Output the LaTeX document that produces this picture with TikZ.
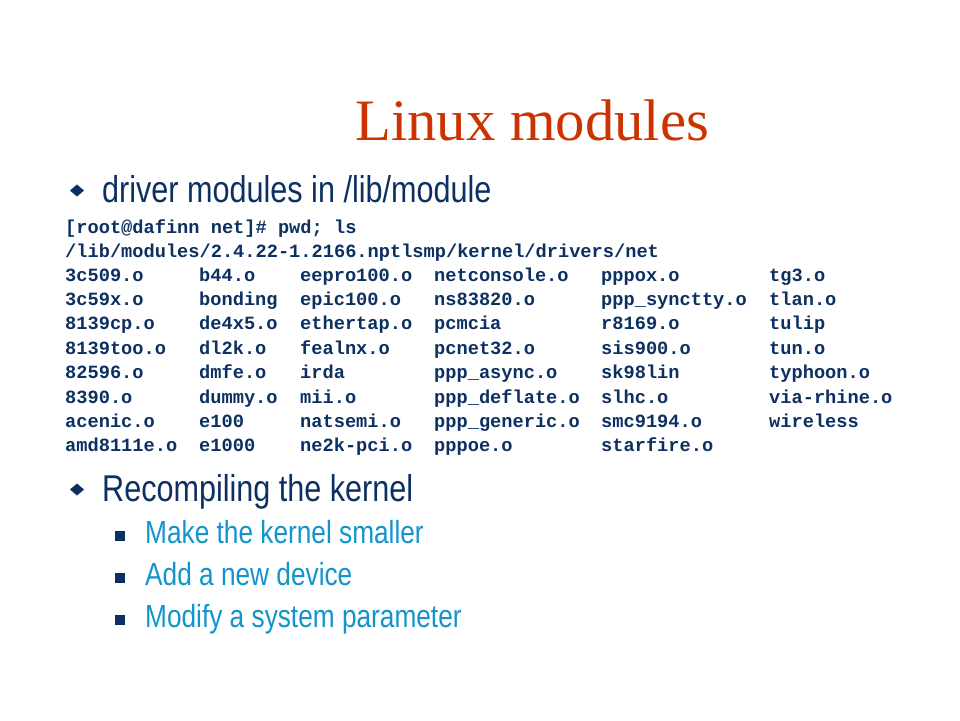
\documentclass[tikz,border=0pt]{standalone}
\usepackage{fontspec}
\setmainfont{Liberation Serif}
\newfontfamily\bodyfont[FakeStretch=0.82]{Liberation Sans}
\newfontfamily\codefont{Liberation Mono}
\definecolor{titlered}{RGB}{204,51,0}
\definecolor{navy}{RGB}{12,48,98}
\definecolor{skyblue}{RGB}{18,148,204}
\begin{document}
\begin{tikzpicture}[x=1pt,y=-1pt,
    every node/.style={inner sep=0pt,anchor=base west},
    heading/.style={font=\fontsize{58.7}{60}\selectfont,text=titlered},
    bigitem/.style={font=\bodyfont\fontsize{37.3}{40}\selectfont,text=navy},
    smallitem/.style={font=\bodyfont\fontsize{32}{34}\selectfont,text=skyblue},
    listing/.style={font=\codefont\bfseries\fontsize{18.67}{20}\selectfont,text=navy}]
    \fill[white] (0,0) rectangle (960,720);
    \useasboundingbox (0,0) rectangle (960,720);
    \node[heading] (title) at (355,140) {Linux modules};
    % first bullet
    \fill[navy] (70,190.5) -- (77,184.5) -- (84,190.5) -- (77,196.5) -- cycle;
    \node[bigitem] (drivers) at (102,202) {driver modules in /lib/module};
    \node[listing] (cmd) at (65,233) {[root@dafinn net]\# pwd; ls};
    \node[listing] (path) at (65,257) {/lib/modules/2.4.22-1.2166.nptlsmp/kernel/drivers/net};
    \foreach \a/\b/\c/\d/\e/\f [count=\i from 0] in {
        3c509.o/b44.o/eepro100.o/netconsole.o/pppox.o/tg3.o,
        3c59x.o/bonding/epic100.o/ns83820.o/ppp\_synctty.o/tlan.o,
        8139cp.o/de4x5.o/ethertap.o/pcmcia/r8169.o/tulip,
        8139too.o/dl2k.o/fealnx.o/pcnet32.o/sis900.o/tun.o,
        82596.o/dmfe.o/irda/ppp\_async.o/sk98lin/typhoon.o,
        8390.o/dummy.o/mii.o/ppp\_deflate.o/slhc.o/via-rhine.o,
        acenic.o/e100/natsemi.o/ppp\_generic.o/smc9194.o/wireless,
        amd8111e.o/e1000/ne2k-pci.o/pppoe.o/starfire.o/{}} {
        \node[listing] (m\i a) at (65,281+24.4*\i) {\a};
        \node[listing] (m\i b) at (199,281+24.4*\i) {\b};
        \node[listing] (m\i c) at (300,281+24.4*\i) {\c};
        \node[listing] (m\i d) at (434,281+24.4*\i) {\d};
        \node[listing] (m\i e) at (601,281+24.4*\i) {\e};
        \node[listing] (m\i f) at (769,281+24.4*\i) {\f};
    }
    % second bullet
    \fill[navy] (70,489.5) -- (77,483.5) -- (84,489.5) -- (77,495.5) -- cycle;
    \node[bigitem] (recompile) at (102,501) {Recompiling the kernel};
    \foreach \t [count=\i from 0] in {Make the kernel smaller,Add a new device,Modify a system parameter} {
        \fill[navy] (115,531+42*\i) rectangle (125,541+42*\i);
        \node[smallitem] (reason\i) at (145,543+42*\i) {\t};
    }
\end{tikzpicture}
\end{document}
